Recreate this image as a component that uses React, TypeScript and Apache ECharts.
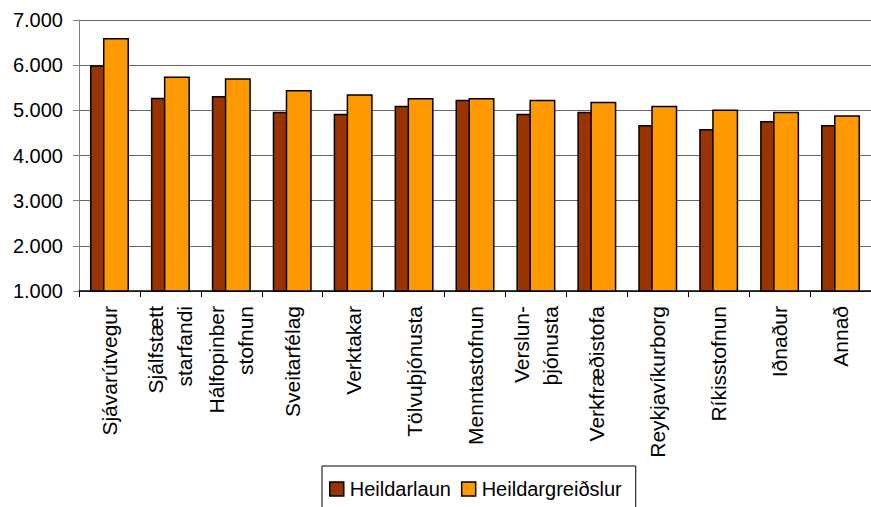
import React, { useEffect, useRef } from "react";
import * as echarts from "echarts";

const categories = [
  "Sjávarútvegur",
  "Sjálfstætt\nstarfandi",
  "Hálfopinber\nstofnun",
  "Sveitarfélag",
  "Verktakar",
  "Tölvuþjónusta",
  "Menntastofnun",
  "Verslun-\nþjónusta",
  "Verkfræðistofa",
  "Reykjavíkurborg",
  "Ríkisstofnun",
  "Iðnaður",
  "Annað",
];

const heildarlaun = [6000, 5280, 5320, 4970, 4925, 5100, 5235, 4925, 4970, 4675, 4585, 4765, 4675];
const heildargreidslur = [6600, 5750, 5710, 5450, 5355, 5275, 5275, 5235, 5190, 5100, 5020, 4970, 4890];

const yTicks = { min: 1000, max: 7000, interval: 1000 };

const FONT = "'Liberation Sans', Arial, sans-serif";

const fmt = (v: number) => String(v).replace(/\B(?=(\d{3})+(?!\d))/g, ".");

export default function App() {
  const ref = useRef<HTMLDivElement>(null);
  useEffect(() => {
    document.body.style.margin = "0";
    if (!ref.current) return;
    const chart = echarts.init(ref.current, undefined, { renderer: "svg" });
    chart.setOption({
      animation: false,
      backgroundColor: "#fff",
      grid: { left: 79, top: 20, width: 797, height: 271, containLabel: false },
      legend: {
        left: 322,
        top: 466,
        orient: "horizontal",
        borderColor: "#000",
        borderWidth: 1,
        backgroundColor: "#fff",
        padding: [13, 14, 24, 7],
        itemWidth: 14,
        itemHeight: 14,
        itemGap: 10,
        icon: "rect",
        itemStyle: { borderColor: "#000", borderWidth: 1.5 },
        textStyle: { fontFamily: FONT, fontSize: 20, color: "#000", padding: [0, 0, 0, 1] },
        data: ["Heildarlaun", "Heildargreiðslur"],
      },
      xAxis: {
        type: "category",
        data: categories,
        axisLine: { lineStyle: { color: "#000", width: 1.5 } },
        axisTick: { show: true, length: 6, lineStyle: { color: "#000" } },
        axisLabel: {
          interval: 0,
          rotate: 90,
          margin: 15,
          fontFamily: FONT,
          fontSize: 21,
          color: "#000",
          lineHeight: 29,
        },
        splitLine: { show: false },
      },
      yAxis: {
        type: "value",
        min: yTicks.min,
        max: yTicks.max,
        interval: yTicks.interval,
        axisLine: { show: true, lineStyle: { color: "#808080", width: 1 } },
        axisTick: { show: true, length: 6, lineStyle: { color: "#808080" } },
        axisLabel: {
          margin: 16,
          fontFamily: FONT,
          fontSize: 20,
          color: "#000",
          formatter: (v: number) => fmt(v),
        },
        splitLine: { show: true, lineStyle: { color: "#666", width: 1.2 } },
      },
      series: [
        {
          name: "Heildarlaun",
          type: "bar",
          data: heildarlaun,
          barWidth: 26,
          barGap: "-50%",
          itemStyle: { color: "#993300", borderColor: "#000", borderWidth: 1.5 },
        },
        {
          name: "Heildargreiðslur",
          type: "bar",
          data: heildargreidslur,
          barWidth: 26,
          barGap: "-50%",
          itemStyle: { color: "#FF9900", borderColor: "#000", borderWidth: 1.5 },
        },
      ],
    });
    return () => chart.dispose();
  }, []);
  return <div ref={ref} style={{ width: 871, height: 507 }} />;
}
